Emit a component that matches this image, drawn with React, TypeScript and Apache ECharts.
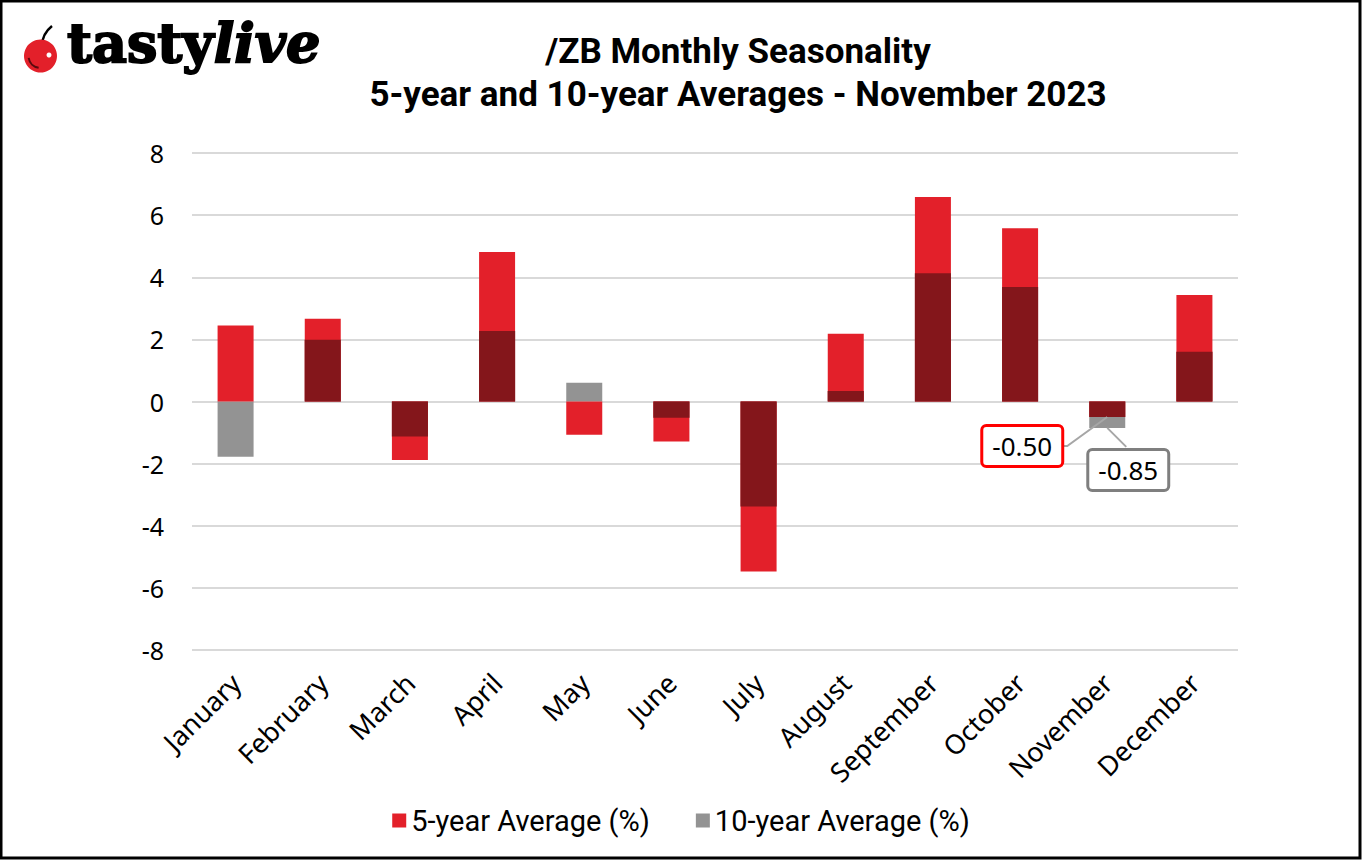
import React, { useEffect, useRef } from "react";
import * as echarts from "echarts";

const months = [
  "January", "February", "March", "April", "May", "June",
  "July", "August", "September", "October", "November", "December",
];
const fiveYear = [2.45, 2.66, -1.88, 4.81, -1.07, -1.29, -5.47, 2.18, 6.58, 5.58, -0.50, 3.43];
const tenYear = [-1.78, 1.99, -1.13, 2.27, 0.60, -0.52, -3.38, 0.34, 4.13, 3.69, -0.85, 1.60];
const yTicks = { min: -8, max: 8, interval: 2 };
const calloutMonth = "November";

const RED = "#e3202a";
const DARK = "#84161b";
const GRAY = "#939393";

export default function App() {
  const ref = useRef<HTMLDivElement>(null);

  useEffect(() => {
    document.body.style.margin = "0";
    if (!ref.current) return;
    const chart = echarts.init(ref.current, null, { renderer: "svg" });

    // overlap region (where both averages share a sign) renders darker
    const overlap = fiveYear.map((v, i) => {
      const t = tenYear[i];
      if (v * t <= 0) return 0;
      return Math.sign(v) * Math.min(Math.abs(v), Math.abs(t));
    });

    const ci = months.indexOf(calloutMonth);
    const calloutData = [
      [ci, fiveYear[ci]],
      [ci, tenYear[ci]],
    ];
    const calloutStyles = [
      { color: "#ff0000", elbow: [-40, 29], center: [-85, 29], end: [-45, 29] },
      { color: "#7f7f7f", elbow: null, center: [21, 42], end: [19, 19] },
    ];

    const option: any = {
      animation: false,
      backgroundColor: "#ffffff",
      grid: { left: 192, right: 124, top: 153, bottom: 210, containLabel: false },
      legend: {
        data: ["5-year Average (%)", "10-year Average (%)"],
        left: "center",
        top: 801,
        icon: "rect",
        itemWidth: 14,
        itemHeight: 14,
        itemGap: 46,
        textStyle: { fontFamily: "Roboto", fontSize: 29, color: "#000" },
      },
      xAxis: {
        type: "category",
        data: months,
        axisLine: { show: false, onZero: false },
        axisTick: { show: false },
        axisLabel: {
          rotate: 45,
          interval: 0,
          margin: 28,
          fontSize: 27,
          fontFamily: "Noto Sans",
          color: "#000",
        },
      },
      yAxis: {
        type: "value",
        min: yTicks.min,
        max: yTicks.max,
        interval: yTicks.interval,
        axisLine: { show: false },
        axisTick: { show: false },
        axisLabel: { fontSize: 25, fontFamily: "Noto Sans", color: "#000", margin: 28 },
        splitLine: { lineStyle: { color: "#d9d9d9", width: 2 } },
      },
      series: [
        {
          name: "10-year Average (%)",
          type: "bar",
          data: tenYear,
          barWidth: 36,
          barGap: "-100%",
          itemStyle: { color: GRAY },
        },
        {
          name: "5-year Average (%)",
          type: "bar",
          data: fiveYear,
          barWidth: 36,
          barGap: "-100%",
          itemStyle: { color: RED },
        },
        {
          name: "overlap",
          type: "bar",
          data: overlap,
          barWidth: 36,
          barGap: "-100%",
          itemStyle: { color: DARK },
        },
        {
          name: "callouts",
          type: "custom",
          z: 10,
          data: calloutData,
          renderItem: (params: any, api: any) => {
            const pt = api.coord([api.value(0), api.value(1)]);
            const s = calloutStyles[params.dataIndex];
            const pts: number[][] = [pt];
            if (s.elbow) pts.push([pt[0] + s.elbow[0], pt[1] + s.elbow[1]]);
            pts.push([pt[0] + s.end[0], pt[1] + s.end[1]]);
            const val = api.value(1) as number;
            return {
              type: "group",
              children: [
                {
                  type: "polyline",
                  shape: { points: pts },
                  style: { stroke: "#a6a6a6", lineWidth: 2, fill: null },
                },
                {
                  type: "text",
                  x: pt[0] + s.center[0],
                  y: pt[1] + s.center[1],
                  style: {
                    text: val.toFixed(2),
                    align: "center",
                    verticalAlign: "middle",
                    fontFamily: "Noto Sans",
                    fontSize: 26,
                    fill: "#000",
                    backgroundColor: "#fff",
                    borderColor: s.color,
                    borderWidth: 3,
                    borderRadius: 3,
                    padding: [6, 9, 6, 9],
                  },
                },
              ],
            };
          },
        },
      ],
      graphic: [
        {
          type: "rect",
          shape: { x: 1, y: 1, width: 1359, height: 857 },
          style: { fill: "none", stroke: "#000", lineWidth: 3 },
          silent: true,
        },
        {
          type: "text",
          style: {
            text: "/ZB Monthly Seasonality",
            x: 738,
            y: 51,
            align: "center",
            verticalAlign: "middle",
            fontFamily: "Roboto",
            fontWeight: "bold",
            fontSize: 35,
            fill: "#000",
          },
        },
        {
          type: "text",
          style: {
            text: "5-year and 10-year Averages - November 2023",
            x: 738,
            y: 94,
            align: "center",
            verticalAlign: "middle",
            fontFamily: "Roboto",
            fontWeight: "bold",
            fontSize: 35,
            fill: "#000",
          },
        },
        // logo
        {
          type: "bezierCurve",
          shape: { x1: 42, y1: 46, x2: 52, y2: 26, cpx1: 42, cpy1: 34 },
          style: { stroke: "#000", lineWidth: 2.5, fill: "none" },
        },
        {
          type: "circle",
          shape: { cx: 40.5, cy: 56, r: 16.5 },
          style: { fill: RED },
        },
        {
          type: "arc",
          shape: { cx: 40.5, cy: 56, r: 12, startAngle: Math.PI * 0.55, endAngle: Math.PI * 0.95 },
          style: { stroke: "#5a0a0e", lineWidth: 2, fill: "none" },
        },
        {
          type: "circle",
          shape: { cx: 49, cy: 55, r: 2.5 },
          style: { fill: "#fff" },
        },
        {
          type: "text",
          style: {
            text: "{a|tasty}{b|live}",
            x: 67,
            y: 70,
            verticalAlign: "bottom",
            rich: {
              a: { fontFamily: "DejaVu Serif", fontWeight: "bold", fontSize: 54, fill: "#000", stroke: "#000", lineWidth: 2 },
              b: { fontFamily: "DejaVu Serif", fontWeight: "bold", fontStyle: "italic", fontSize: 54, fill: "#000", stroke: "#000", lineWidth: 2 },
            },
          },
        },
      ],
    };

    chart.setOption(option);
    return () => chart.dispose();
  }, []);

  return (
    <div
      ref={ref}
      style={{ position: "fixed", left: 0, top: 0, width: 1362, height: 860 }}
    />
  );
}
